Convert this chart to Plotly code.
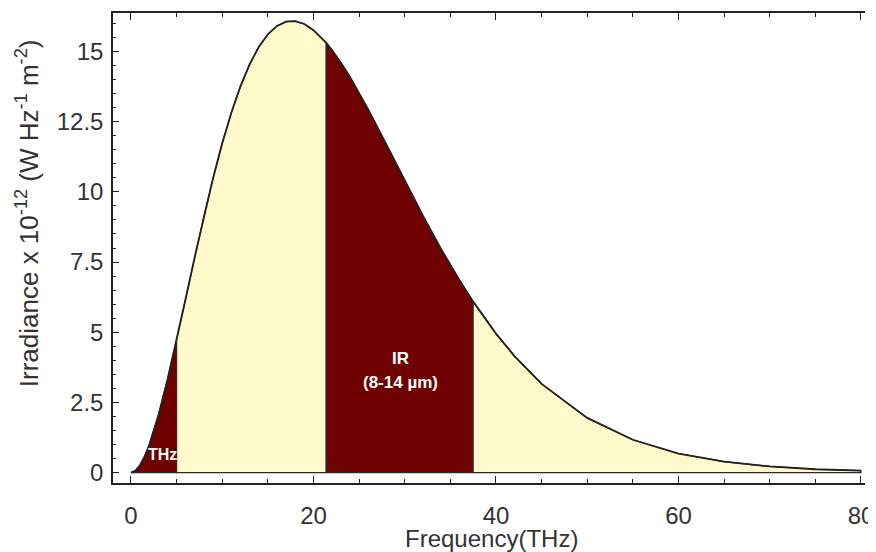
import plotly.graph_objects as go

# Spectral irradiance (x 10^-12 W Hz^-1 m^-2)
freq = [0, 0.5, 1, 1.5, 2, 3, 4, 5, 6, 7, 8, 9, 10, 11, 12, 13, 14, 15, 16, 17,
        18, 19, 20, 21.4, 22, 23, 24, 26, 28, 30, 32, 34, 36, 37.5, 40, 42, 45,
        50, 55, 60, 65, 70, 75, 80]
irradiance = [0, 0.07, 0.27, 0.58, 0.98, 2.03, 3.31, 4.73, 6.21, 7.70, 9.14,
              10.49, 11.73, 12.82, 13.76, 14.54, 15.16, 15.61, 15.91, 16.06,
              16.08, 15.98, 15.76, 15.31, 15.06, 14.60, 14.09, 12.93, 11.68,
              10.40, 9.14, 7.95, 6.85, 6.09, 4.95, 4.16, 3.16, 1.95, 1.17, 0.68,
              0.39, 0.22, 0.12, 0.07]

# Spectral bands (THz)
band_edges = [0, 5, 21.4, 37.5, 80]
band_colors = ["#6E0000", "#FFF9CC", "#6E0000", "#FFF9CC"]

x_ticks = [0, 20, 40, 60, 80]
y_ticks = [0, 2.5, 5, 7.5, 10, 12.5, 15]
y_ticktext = ["0", "2.5", "5", "7.5", "10", "12.5", "15"]

FONT = "Liberation Sans, Arial, sans-serif"
INK = "#222222"

fig = go.Figure()

for i in range(len(band_edges) - 1):
    a, b = band_edges[i], band_edges[i + 1]
    xs = [f for f in freq if a <= f <= b]
    ys = [v for f, v in zip(freq, irradiance) if a <= f <= b]
    fig.add_trace(go.Scatter(
        x=xs + [b, a, a], y=ys + [0, 0, ys[0]],
        mode="lines", fill="toself", fillcolor=band_colors[i],
        line=dict(color="#2a2a2a", width=1.2),
        hoverinfo="skip", showlegend=False,
    ))

fig.add_trace(go.Scatter(
    x=freq, y=irradiance, mode="lines",
    line=dict(color=INK, width=1.8),
    showlegend=False,
))

# page body has an 8px margin, so the figure is 8px smaller than the window
fig.update_layout(
    width=868, height=544,
    margin=dict(l=105, r=11, t=5, b=69),
    paper_bgcolor="white", plot_bgcolor="white",
    font=dict(family=FONT, color="#333333"),
    xaxis=dict(
        range=[-1.97, 80.44], tickvals=x_ticks, automargin=False,
        ticks="inside", ticklen=7, tickwidth=1.2, tickcolor=INK,
        minor=dict(dtick=5, tick0=0, ticks="inside", ticklen=4, tickcolor=INK, tickwidth=1),
        showline=True, linecolor=INK, linewidth=1.5, mirror="ticks",
        showgrid=False, zeroline=False,
        tickfont=dict(size=24, color="#333333"), ticklabelstandoff=10,
    ),
    yaxis=dict(
        range=[-0.37, 16.37], tickvals=y_ticks, ticktext=y_ticktext, automargin=False,
        ticks="inside", ticklen=6, tickwidth=1.2, tickcolor=INK,
        minor=dict(dtick=0.5, tick0=0, ticks="inside", ticklen=3, tickcolor=INK, tickwidth=1),
        showline=True, linecolor=INK, linewidth=1.5, mirror=False,
        showgrid=False, zeroline=False,
        tickfont=dict(size=24, color="#333333"), ticklabelstandoff=3,
    ),
    annotations=[
        dict(text="Irradiance x 10<sup>-12</sup> (W Hz<sup>-1</sup> m<sup>-2</sup>)",
             xref="paper", yref="paper", x=-0.1144, y=0.574,
             xanchor="center", yanchor="middle", textangle=-90, showarrow=False,
             font=dict(size=26, color="#333333", family=FONT)),
        dict(text="Frequency(THz)", xref="paper", yref="paper", x=0.503, y=-0.118,
             xanchor="center", yanchor="middle", showarrow=False,
             font=dict(size=24, color="#333333", family=FONT)),
        dict(text="<b>THz</b>", x=3.4, y=0.63, xref="x", yref="y", showarrow=False,
             font=dict(size=16, color="white", family=FONT)),
        dict(text="<b>IR</b>", x=29.5, y=4.05, xref="x", yref="y", showarrow=False,
             font=dict(size=17, color="white", family=FONT)),
        dict(text="<b>(8-14 µm)</b>", x=29.5, y=3.2, xref="x", yref="y", showarrow=False,
             font=dict(size=17, color="white", family=FONT)),
    ],
    shapes=[
        dict(type="line", xref="paper", yref="paper", x0=1.0106, x1=1.0106, y0=0, y1=0.97,
             line=dict(color="#cccccc", width=1, dash="dot")),
    ],
)

fig.write_html("out.html")
